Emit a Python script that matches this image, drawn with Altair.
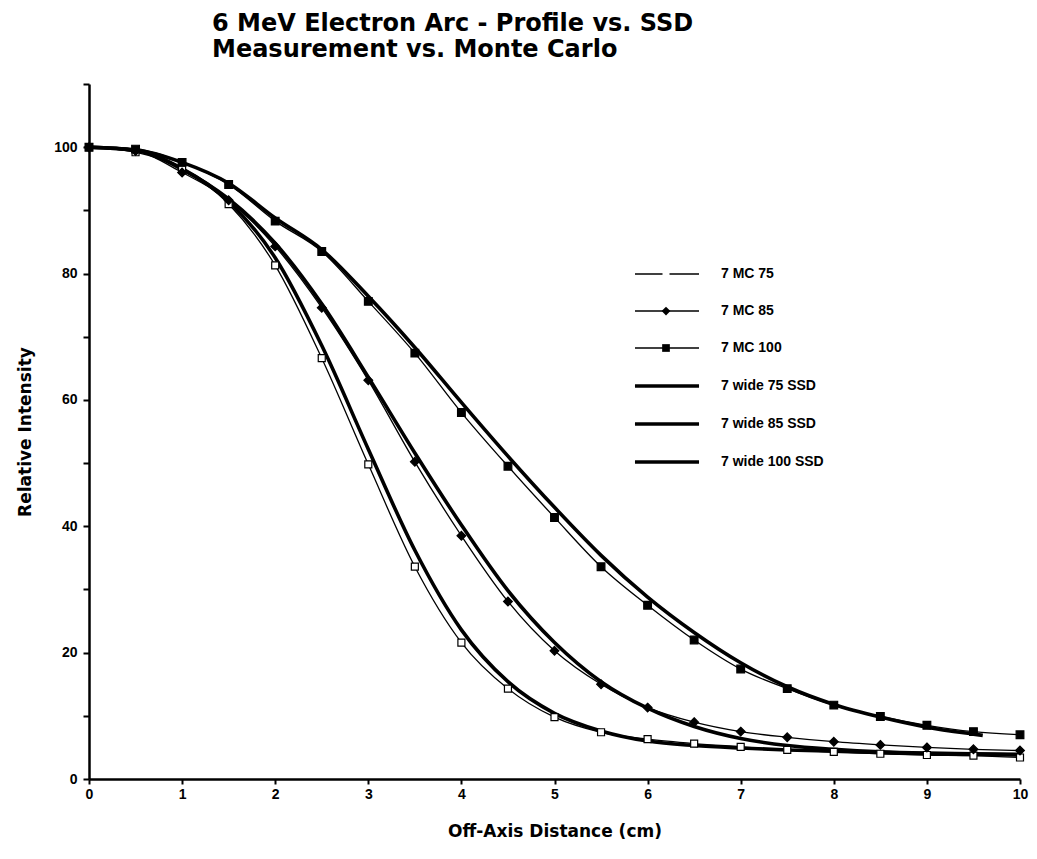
import altair as alt
import pandas as pd

# ---- data ----
series_names = ["7 MC 75", "7 MC 85", "7 MC 100",
                "7 wide 75 SSD", "7 wide 85 SSD", "7 wide 100 SSD"]

x_mc = [0, 0.5, 1, 1.5, 2, 2.5, 3, 3.5, 4, 4.5, 5,
        5.5, 6, 6.5, 7, 7.5, 8, 8.5, 9, 9.5, 10]
mc75 = [100, 99.2, 96.5, 91.0, 81.3, 66.6, 49.8, 33.6, 21.6, 14.3, 9.8,
        7.4, 6.3, 5.6, 5.1, 4.6, 4.3, 4.0, 3.8, 3.7, 3.4]
mc85 = [100, 99.4, 96.0, 91.6, 84.3, 74.6, 63.1, 50.2, 38.5, 28.1, 20.3,
        15.0, 11.3, 9.0, 7.5, 6.6, 5.9, 5.4, 5.0, 4.7, 4.5]
mc100 = [100, 99.7, 97.6, 94.1, 88.3, 83.5, 75.6, 67.4, 58.0, 49.5, 41.4,
         33.6, 27.5, 22.0, 17.4, 14.3, 11.7, 9.9, 8.5, 7.5, 7.0]

x_wide = [0, 0.5, 1, 1.5, 2, 2.5, 3, 3.5, 4, 4.5, 5,
          5.5, 6, 6.5, 7, 7.5, 8, 8.5, 9, 9.5, 10]
wide75 = [100, 99.5, 96.6, 91.4, 82.5, 68.6, 52.2, 36.2, 23.6, 15.4, 10.4,
          7.6, 6.0, 5.3, 4.9, 4.6, 4.4, 4.2, 4.0, 3.9, 3.8]
wide85 = [100, 99.5, 96.5, 91.8, 84.8, 75.2, 63.6, 51.6, 40.2, 29.8, 21.6,
          15.4, 11.2, 8.3, 6.4, 5.3, 4.7, 4.3, 4.1, 4.0, 3.9]
x_wide100 = [0, 0.5, 1, 1.5, 2, 2.5, 3, 3.5, 4, 4.5, 5,
             5.5, 6, 6.5, 7, 7.5, 8, 8.5, 9, 9.5, 9.6]
wide100 = [100, 99.6, 97.6, 94.3, 88.8, 83.8, 76.4, 68.3, 59.6, 51.1, 43.0,
           35.4, 28.8, 23.2, 18.4, 14.6, 11.8, 9.8, 8.2, 7.1, 6.9]

x_ticks = [0, 1, 2, 3, 4, 5, 6, 7, 8, 9, 10]
y_ticks = [0, 10, 20, 30, 40, 50, 60, 70, 80, 90, 100, 110]

rows = []
for name, xs, ys in [(series_names[0], x_mc, mc75), (series_names[1], x_mc, mc85),
                     (series_names[2], x_mc, mc100), (series_names[3], x_wide, wide75),
                     (series_names[4], x_wide, wide85), (series_names[5], x_wide100, wide100)]:
    for a, b in zip(xs, ys):
        rows.append({"series": name, "x": a, "y": b})
df = pd.DataFrame(rows)

mc_series = series_names[:3]

# marker shapes (custom paths, small inside the symbol box)
sq75 = "M-0.2,-0.2H0.2V0.2H-0.2Z"
dia85 = "M0,-0.25L0.25,0L0,0.25L-0.25,0Z"
sq100 = "M-0.22,-0.22H0.22V0.22H-0.22Z"

LEG_X = 558.5
LEG_Y = 171.5
SYM = 1225
LAB_OFF = 34.5
ROW_PAD = 11

legend_lines = alt.Legend(
    orient="none", legendX=LEG_X, legendY=LEG_Y, title=None,
    symbolType="M-1.83,0H1.83", symbolSize=SYM, symbolStrokeColor="black",
    labelOffset=LAB_OFF, labelFont="Liberation Sans", labelFontSize=14,
    labelFontWeight="bold", labelColor="black", padding=0, rowPadding=ROW_PAD,
)
legend_pts = alt.Legend(
    orient="none", legendX=LEG_X, legendY=LEG_Y, title=None,
    symbolSize=SYM, symbolStrokeColor="black", symbolStrokeWidth=1.2,
    labelOffset=LAB_OFF, labelFont="Liberation Sans", labelFontSize=14,
    labelFontWeight="bold", labelOpacity=0, padding=0, rowPadding=ROW_PAD,
)

x_enc = alt.X("x:Q", scale=alt.Scale(domain=[0, 10], nice=False),
              axis=alt.Axis(values=x_ticks, title="Off-Axis Distance (cm)",
                            labelFlush=False, tickSize=5, labelPadding=3,
                            titlePadding=22, format="d"))
y_enc = alt.Y("y:Q", scale=alt.Scale(domain=[0, 110], nice=False),
              axis=alt.Axis(values=y_ticks, title="Relative Intensity",
                            labelExpr="(datum.value % 20 == 0 && datum.value <= 100) ? datum.label : ''",
                            labelFlush=False, labelOverlap=False, tickSize=6,
                            labelPadding=6, titlePadding=19))

lines = alt.Chart(df).mark_line(color="black", interpolate="monotone").encode(
    x=x_enc,
    y=y_enc,
    strokeWidth=alt.StrokeWidth(
        "series:N",
        scale=alt.Scale(type="ordinal", domain=series_names,
                        range=[1.3, 1.3, 1.3, 3.6, 3.6, 3.6]),
        legend=legend_lines),
)

points = alt.Chart(df).transform_filter(
    alt.FieldOneOfPredicate(field="series", oneOf=mc_series)
).mark_point(filled=True, size=SYM, stroke="black", strokeWidth=1.2, opacity=1).encode(
    x="x:Q",
    y="y:Q",
    shape=alt.Shape("series:N", scale=alt.Scale(domain=mc_series, range=[sq75, dia85, sq100]),
                    legend=legend_pts),
    fill=alt.Fill("series:N", scale=alt.Scale(domain=mc_series, range=["white", "black", "black"]),
                  legend=legend_pts),
)

chart = alt.layer(lines, points).properties(
    width=931,
    height=695,
    autosize=alt.AutoSizeParams(type="none"),
    padding={"left": 81, "top": 76, "right": 9, "bottom": 70},
    background="white",
    title=alt.Title(
        text=["6 MeV Electron Arc - Profile vs. SSD", "Measurement vs. Monte Carlo"],
        anchor="start", frame="group", dx=123, offset=15,
        font="DejaVu Sans", fontSize=24, fontWeight="bold", color="black",
        lineHeight=26,
    ),
).configure_view(stroke=None).configure_axis(
    grid=False,
    domainColor="black", domainWidth=2.5,
    tickColor="black", tickWidth=2,
    labelFont="Liberation Sans", labelFontSize=14, labelFontWeight="bold", labelColor="black",
    titleFont="DejaVu Sans", titleFontSize=17, titleFontWeight="bold", titleColor="black",
)

chart.save("out.html", embed_options={"renderer": "svg", "actions": False})
